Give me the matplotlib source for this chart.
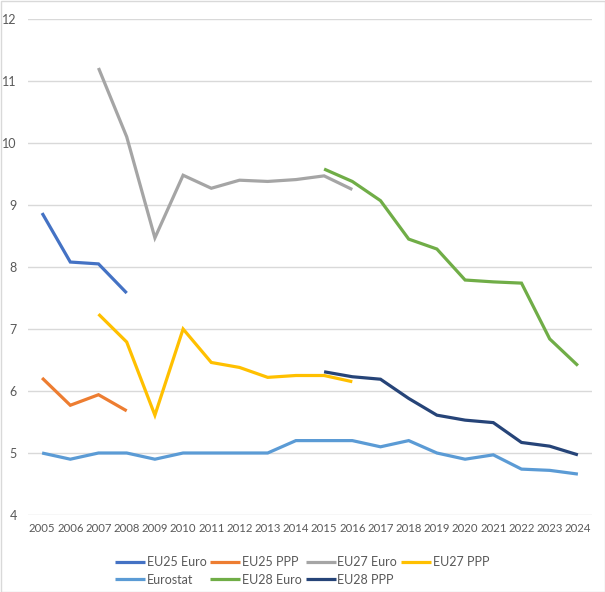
import matplotlib
matplotlib.use("Agg")
import matplotlib.pyplot as plt
import numpy as np

nan = np.nan
years = [str(y) for y in range(2005, 2025)]

eu25_euro = [8.87, 8.08, 8.05, 7.58] + [nan] * 16
eu25_ppp = [6.21, 5.77, 5.94, 5.68] + [nan] * 16
eu27_euro = [nan, nan, 11.21, 10.10, 8.47, 9.48, 9.27, 9.40, 9.38, 9.41, 9.47, 9.25] + [nan] * 8
eu27_ppp = [nan, nan, 7.24, 6.79, 5.61, 7.00, 6.46, 6.38, 6.22, 6.25, 6.25, 6.15] + [nan] * 8
eurostat = [5.0, 4.9, 5.0, 5.0, 4.9, 5.0, 5.0, 5.0, 5.0, 5.2, 5.2, 5.2, 5.1, 5.2, 5.0, 4.9, 4.97, 4.74, 4.72, 4.66]
eu28_euro = [nan] * 10 + [9.58, 9.38, 9.07, 8.45, 8.29, 7.79, 7.76, 7.74, 6.84, 6.41]
eu28_ppp = [nan] * 10 + [6.31, 6.23, 6.19, 5.88, 5.61, 5.53, 5.49, 5.17, 5.11, 4.97]

series = [
    ("EU25 Euro", eu25_euro, "#4472C4"),
    ("EU25 PPP", eu25_ppp, "#ED7D31"),
    ("EU27 Euro", eu27_euro, "#A5A5A5"),
    ("EU27 PPP", eu27_ppp, "#FFC000"),
    ("Eurostat", eurostat, "#5B9BD5"),
    ("EU28 Euro", eu28_euro, "#70AD47"),
    ("EU28 PPP", eu28_ppp, "#264478"),
]

plt.rcParams['font.family'] = ['Lato', 'DejaVu Sans']

fig = plt.figure(figsize=(6.05, 5.92), dpi=100)
ax = fig.add_axes([28/605, 77/592, 564/605, 496/592])

x = np.arange(len(years))
lines = {}
for name, vals, col in series:
    ln, = ax.plot(x, vals, color=col, lw=2.3, label=name, solid_capstyle='butt', solid_joinstyle='miter')
    lines[name] = ln

ax.set_xlim(-0.5, len(years) - 0.5)
ax.set_ylim(4, 12)
ax.set_yticks(range(4, 13))
ax.set_xticks(x)
ax.set_xticklabels(years)
ax.grid(axis='y', color='#D9D9D9', lw=1)
ax.set_axisbelow(True)
for s in ax.spines.values():
    s.set_visible(False)
ax.tick_params(length=0, labelsize=8.2, colors='#595959', pad=6)
ax.tick_params(axis='y', pad=8, labelsize=9)

order = ["EU25 Euro", "Eurostat", "EU25 PPP", "EU28 Euro", "EU27 Euro", "EU28 PPP", "EU27 PPP"]
fig.legend([lines[n] for n in order], order, loc='center', bbox_to_anchor=(302/605, 1 - 571/592), ncol=4,
           frameon=False, fontsize=9, labelcolor='#595959', handlelength=2.4, handletextpad=0.15,
           columnspacing=0.3, labelspacing=0.45, borderpad=0.2)

fig.patches.append(plt.Rectangle((0.5/605, 0.5/592), 1 - 1/605, 1 - 1/592, transform=fig.transFigure,
                                 fill=False, edgecolor='#D9D9D9', lw=1))

fig.savefig("out.png", dpi=100)
